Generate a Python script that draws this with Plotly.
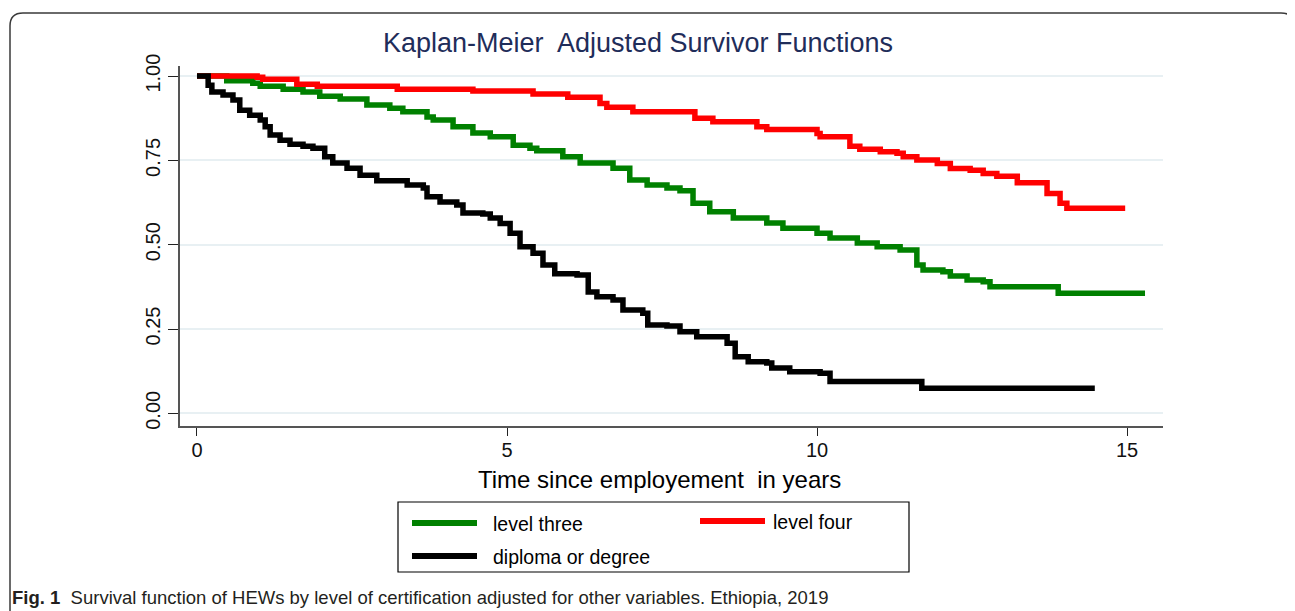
import plotly.graph_objects as go

# ---------------- data ----------------
series_names = ["level three", "level four", "diploma or degree"]

green_t = [0, 0.48, 0.90, 1.02, 1.39, 1.71, 1.98, 2.31, 2.74, 3.11,
           3.32, 3.71, 3.81, 4.13, 4.45, 4.73, 5.10, 5.37, 5.48, 5.90,
           6.18, 6.71, 6.98, 7.26, 7.58, 7.79, 8.00, 8.27, 8.65, 9.19,
           9.45, 10.0, 10.21, 10.65, 10.97, 11.34, 11.61, 11.71, 12.03, 12.15,
           12.42, 12.68, 12.79, 13.89, 15.29]
green_s = [1.0, 0.986, 0.979, 0.97, 0.961, 0.953, 0.94, 0.932, 0.914, 0.905,
           0.894, 0.879, 0.87, 0.85, 0.831, 0.82, 0.795, 0.786, 0.779, 0.761,
           0.742, 0.727, 0.692, 0.677, 0.668, 0.66, 0.623, 0.598, 0.579, 0.564,
           0.549, 0.534, 0.52, 0.505, 0.494, 0.484, 0.44, 0.425, 0.42, 0.407,
           0.395, 0.39, 0.375, 0.356, 0.356]

red_t = [0, 0.97, 1.06, 1.61, 1.94, 3.23, 4.45, 5.42, 5.98, 6.50,
         6.61, 7.03, 8.03, 8.32, 9.03, 9.19, 10.0, 10.05, 10.53, 10.69,
         11.02, 11.29, 11.39, 11.61, 11.94, 12.15, 12.47, 12.68, 12.90, 13.23,
         13.71, 13.92, 14.03, 14.97]
red_s = [1.0, 0.997, 0.991, 0.976, 0.97, 0.961, 0.956, 0.947, 0.937, 0.919,
         0.908, 0.894, 0.875, 0.865, 0.85, 0.842, 0.83, 0.82, 0.792, 0.783,
         0.776, 0.771, 0.761, 0.751, 0.741, 0.726, 0.721, 0.711, 0.703, 0.684,
         0.652, 0.623, 0.608, 0.608]

black_t = [0, 0.18, 0.24, 0.42, 0.58, 0.69, 0.85, 1.02, 1.10, 1.18,
           1.34, 1.50, 1.71, 1.87, 2.06, 2.19, 2.42, 2.63, 2.90, 3.39,
           3.65, 3.71, 3.92, 4.19, 4.29, 4.61, 4.73, 4.89, 5.05, 5.21,
           5.42, 5.58, 5.77, 6.13, 6.31, 6.45, 6.71, 6.87, 7.19, 7.27,
           7.58, 7.79, 8.06, 8.55, 8.68, 8.89, 9.19, 9.27, 9.56, 10.05,
           10.21, 11.69, 14.48]
black_s = [1.0, 0.973, 0.953, 0.944, 0.929, 0.899, 0.884, 0.87, 0.85, 0.825,
           0.81, 0.798, 0.792, 0.786, 0.761, 0.742, 0.727, 0.706, 0.69, 0.677,
           0.668, 0.642, 0.627, 0.618, 0.594, 0.591, 0.579, 0.563, 0.534, 0.494,
           0.475, 0.44, 0.414, 0.41, 0.36, 0.346, 0.336, 0.306, 0.297, 0.262,
           0.259, 0.242, 0.227, 0.208, 0.168, 0.153, 0.149, 0.134, 0.123, 0.119,
           0.094, 0.074, 0.074]

x_ticks = [0, 5, 10, 15]
y_ticks = [0.0, 0.25, 0.5, 0.75, 1.0]
y_ticklabels = ["0.00", "0.25", "0.50", "0.75", "1.00"]

title_text = "Kaplan-Meier  Adjusted Survivor Functions"
xaxis_title = "Time since employement  in years"
caption_bold = "Fig. 1"
caption_text = "Survival function of HEWs by level of certification adjusted for other variables. Ethiopia, 2019"

# ---------------- styling ----------------
OFF = 8                      # default page body margin around the plot div
W, H = 1295 - OFF, 611 - OFF
ML = 180 - OFF               # plot area left edge on screen: 180
PLOT_R = 1163 - OFF          # plot area right edge on screen: 1163
MT = 66 - OFF                # plot area top on screen: 66
PLOT_B = 426 - OFF           # plot area bottom on screen: 426
MR, MB = W - PLOT_R, H - PLOT_B
PW, PH = W - ML - MR, H - MT - MB
FONT = "Liberation Sans, Arial, sans-serif"
colors = {"level three": "#008000", "level four": "#ff0000", "diploma or degree": "#000000"}


def px(xs):
    """screen x pixel -> paper x"""
    return (xs - OFF - ML) / PW


def py(ys):
    """screen y pixel -> paper y"""
    return (PLOT_B - (ys - OFF)) / PH


fig = go.Figure()
for name, t, s in [("level three", green_t, green_s),
                   ("level four", red_t, red_s),
                   ("diploma or degree", black_t, black_s)]:
    fig.add_trace(go.Scatter(x=t, y=s, mode="lines", name=name,
                             line=dict(color=colors[name], width=5.5, shape="hv"),
                             showlegend=False))

shapes = []
annotations = []

# outer rounded frame of the figure panel
fl, fr, ft, fb, r = 10, 1294, 13, 660, 13
path = (f"M {px(fl)},{py(ft + r)} Q {px(fl)},{py(ft)} {px(fl + r)},{py(ft)} "
        f"L {px(fr - r)},{py(ft)} Q {px(fr)},{py(ft)} {px(fr)},{py(ft + r)} "
        f"L {px(fr)},{py(fb)} L {px(fl)},{py(fb)} Z")
shapes.append(dict(type="path", xref="paper", yref="paper", path=path,
                   line=dict(color="#3a3a3a", width=1.5), layer="below"))

# legend box (manual, Stata-style)
shapes.append(dict(type="rect", xref="paper", yref="paper",
                   x0=px(398), x1=px(909), y0=py(572), y1=py(502),
                   line=dict(color="#000000", width=1.2)))
legend_items = [("level three", 412, 477, 523, 493),
                ("level four", 700, 765, 521, 773),
                ("diploma or degree", 412, 477, 556, 493)]
for name, x0, x1, yy, xt in legend_items:
    shapes.append(dict(type="line", xref="paper", yref="paper",
                       x0=px(x0), x1=px(x1), y0=py(yy), y1=py(yy),
                       line=dict(color=colors[name], width=6)))
    annotations.append(dict(xref="paper", yref="paper", x=px(xt - 2), y=py(yy + 1),
                            text=name, showarrow=False, xanchor="left", yanchor="middle",
                            font=dict(family=FONT, size=19.5, color="#000000")))

# axis title
annotations.append(dict(xref="paper", yref="paper", x=px(659), y=py(480),
                        text=xaxis_title, showarrow=False, xanchor="center", yanchor="middle",
                        font=dict(family=FONT, size=24, color="#000000")))

# caption
annotations.append(dict(xref="paper", yref="paper", x=px(10), y=py(597),
                        text=f"<b>{caption_bold}</b>  {caption_text}", showarrow=False,
                        xanchor="left", yanchor="middle",
                        font=dict(family=FONT, size=18.5, color="#231f20")))

fig.update_layout(
    width=W, height=H,
    margin=dict(l=ML, r=MR, t=MT, b=MB, pad=0),
    paper_bgcolor="#ffffff", plot_bgcolor="#ffffff",
    title=dict(text=title_text, x=(638 - OFF) / W, xanchor="center", xref="container",
               y=1 - (43 - OFF) / H, yanchor="middle", yref="container",
               font=dict(family=FONT, size=27, color="#1f2d5a")),
    shapes=shapes, annotations=annotations,
    showlegend=False,
)
fig.update_xaxes(range=[-0.274, 15.58], tickvals=x_ticks, ticks="outside", ticklen=8,
                 tickcolor="#222222", tickwidth=1.2, showline=True, linecolor="#555555",
                 linewidth=1.5, showgrid=False, zeroline=False,
                 tickfont=dict(family=FONT, size=20, color="#111111"), ticklabelstandoff=-3)
fig.update_yaxes(range=[-0.0377, 1.03], tickvals=y_ticks, ticktext=y_ticklabels,
                 ticks="outside", ticklen=10, tickcolor="#222222", tickwidth=1.2,
                 showline=True, linecolor="#555555", linewidth=1.5,
                 showgrid=True, gridcolor="#e8f0f3", gridwidth=2, zeroline=False,
                 tickangle=-90, tickfont=dict(family=FONT, size=20, color="#111111"))

fig.write_html("out.html")
